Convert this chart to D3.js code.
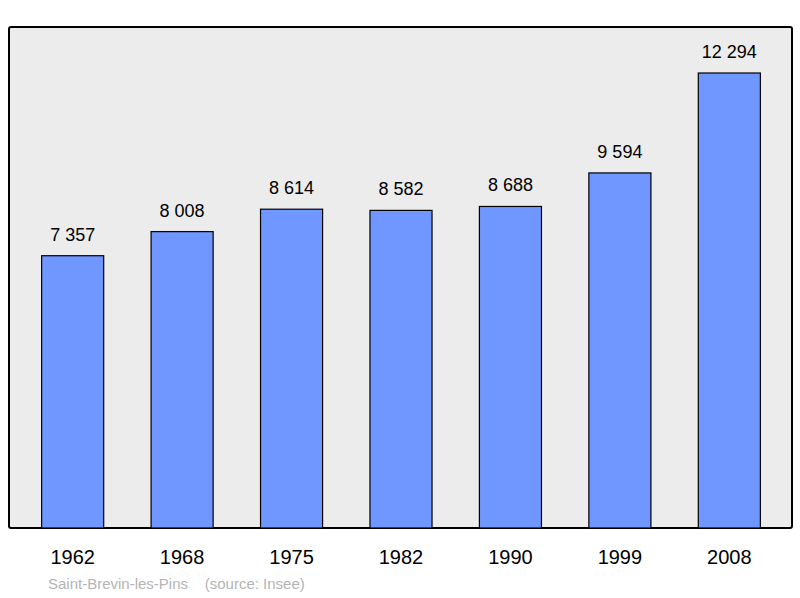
<!DOCTYPE html>
<html><head><meta charset="utf-8">
<script src="https://cdn.jsdelivr.net/npm/d3@7"></script>
<style>body{margin:0;background:#fff}</style></head>
<body><svg id="c" width="800" height="598"></svg>
<script>
const years = ["1962","1968","1975","1982","1990","1999","2008"];
const population = [7357,8008,8614,8582,8688,9594,12294];
const valueLabels = ["7 357","8 008","8 614","8 582","8 688","9 594","12 294"];
const sourceText = "Saint-Brevin-les-Pins    (source: Insee)";

const svg = d3.select("#c");
const font = "Liberation Sans, Arial, sans-serif";
svg.append("rect").attr("x",9).attr("y",27).attr("width",783).attr("height",501)
  .attr("rx",2).attr("fill","#ececec").attr("stroke","#000").attr("stroke-width",2);
const x = d3.scaleBand().domain(years).range([18,784]).paddingInner(0.433).paddingOuter(0.216);
const y = d3.scaleLinear().domain([0,13537]).range([528,27]);
const g = svg.append("g");
g.selectAll("rect.b").data(population).enter().append("rect")
  .attr("x",(d,i)=>x(years[i])).attr("width",x.bandwidth())
  .attr("y",d=>y(d)).attr("height",d=>y(0)-y(d))
  .attr("fill","#7096ff").attr("stroke","#000").attr("stroke-width",1.2);
g.selectAll("text.v").data(population).enter().append("text")
  .attr("x",(d,i)=>x(years[i])+x.bandwidth()/2).attr("y",d=>y(d)-15)
  .attr("text-anchor","middle").attr("font-family",font).attr("font-size",18)
  .text((d,i)=>valueLabels[i]);
g.selectAll("text.yr").data(years).enter().append("text")
  .attr("x",d=>x(d)+x.bandwidth()/2).attr("y",564)
  .attr("text-anchor","middle").attr("font-family",font).attr("font-size",20)
  .text(d=>d);
svg.append("text").attr("x",48).attr("y",589).attr("font-family",font).attr("font-size",15)
  .attr("fill","#b4b4b4").attr("xml:space","preserve").style("white-space","pre").text(sourceText);
</script></body></html>
